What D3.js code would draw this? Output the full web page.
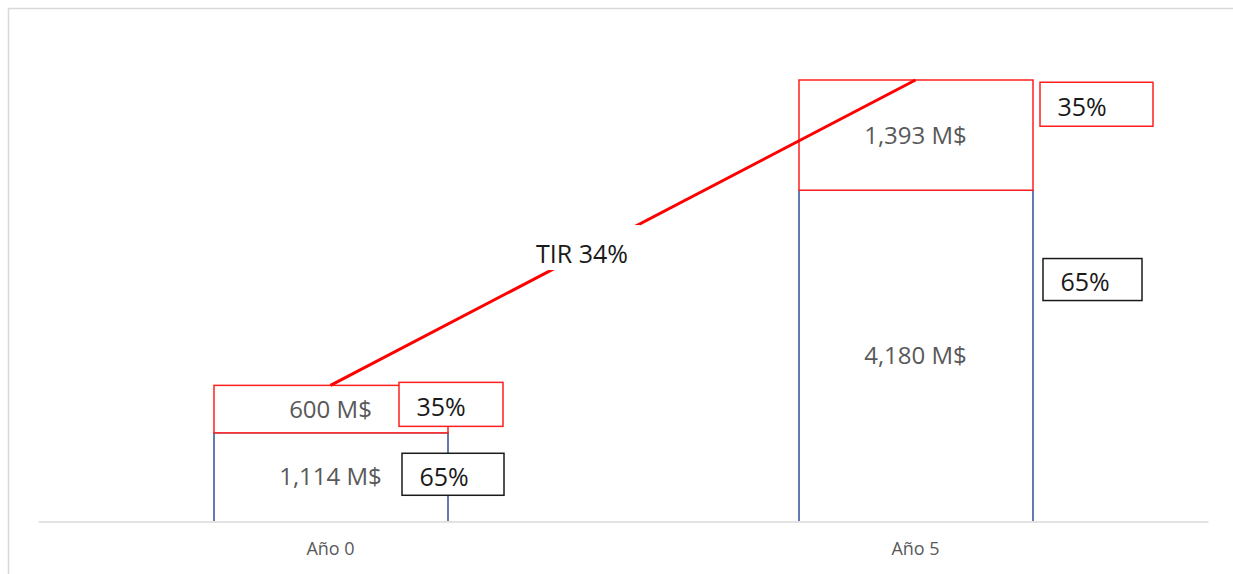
<!DOCTYPE html>
<html>
<head>
<meta charset="utf-8">
<script src="https://cdn.jsdelivr.net/npm/d3@7"></script>
<style>
  html, body { margin: 0; padding: 0; background: #ffffff; }
  svg { display: block; }
</style>
</head>
<body>
<svg id="chart" width="1233" height="574"></svg>
<script>
// Investment vs. value at exit, split between the two parts of the capital
const categories = ["Año 0", "Año 5"];
const baseValues = [1114, 4180];   // lower segment, M$
const topValues = [600, 1393];     // upper segment, M$
const baseShare = ["65%", "65%"];
const topShare = ["35%", "35%"];
const irrLabel = "TIR 34%";

const W = 1233, H = 574;
const svg = d3.select("#chart");
const FONT = "'Open Sans', 'Liberation Sans', sans-serif";

const plot = { left: 38, right: 1208, top: 80, bottom: 521 };

const x = d3.scaleBand()
  .domain(categories)
  .range([plot.left, plot.right])
  .paddingInner(0.6)
  .paddingOuter(0.3);

const totals = categories.map((c, i) => baseValues[i] + topValues[i]);
const y = d3.scaleLinear()
  .domain([0, d3.max(totals)])
  .range([plot.bottom, plot.top]);

// chart-area border
svg.append("path")
  .attr("d", `M8.5,${H} V8.5 H${W}`)
  .attr("fill", "none")
  .attr("stroke", "#d9d9d9")
  .attr("stroke-width", 1.5);

const rows = categories.map((c, i) => ({
  cat: c,
  base: baseValues[i],
  top: topValues[i],
  total: totals[i]
}));

// lower segments: white fill, navy sides
const lower = svg.append("g").selectAll("g")
  .data(rows)
  .join("g");
lower.append("rect")
  .attr("x", d => x(d.cat) + 0.5)
  .attr("y", d => y(d.base))
  .attr("width", x.bandwidth())
  .attr("height", d => y(0) - y(d.base))
  .attr("fill", "#ffffff");
lower.append("path")
  .attr("d", d => {
    const l = x(d.cat) + 0.5, r = l + x.bandwidth();
    return `M${l},${y(0)} V${y(d.base)} H${r} V${y(0)}`;
  })
  .attr("fill", "none")
  .attr("stroke", "#2f4f96")
  .attr("stroke-width", 1.5);

// upper segments (red outline)
svg.append("g").selectAll("rect")
  .data(rows)
  .join("rect")
  .attr("x", d => x(d.cat) + 0.5)
  .attr("y", d => y(d.total))
  .attr("width", x.bandwidth())
  .attr("height", d => y(d.base) - y(d.total))
  .attr("fill", "#ffffff")
  .attr("stroke", "#ff1f1f")
  .attr("stroke-width", 1.5);

// category axis
const xAxis = svg.append("g")
  .attr("transform", `translate(0,${plot.bottom + 0.5})`)
  .call(d3.axisBottom(x).tickSize(0).tickPadding(21));
xAxis.select(".domain").attr("stroke", "#d9d9d9").attr("stroke-width", 1.5);
xAxis.selectAll("text")
  .attr("font-family", FONT)
  .attr("font-size", 18)
  .attr("fill", "#595959");

// value labels centred in each segment
const fmt = d3.format(",");
const valueLabels = [];
rows.forEach(d => {
  valueLabels.push({ cx: x(d.cat) + x.bandwidth() / 2, cy: (y(0) + y(d.base)) / 2, text: fmt(d.base) + " M$" });
  valueLabels.push({ cx: x(d.cat) + x.bandwidth() / 2, cy: (y(d.base) + y(d.total)) / 2, text: fmt(d.top) + " M$" });
});
svg.append("g").selectAll("text")
  .data(valueLabels)
  .join("text")
  .attr("x", d => d.cx)
  .attr("y", d => d.cy)
  .attr("dy", "0.35em")
  .attr("text-anchor", "middle")
  .attr("font-family", FONT)
  .attr("font-size", 24)
  .attr("fill", "#595959")
  .text(d => d.text);

// IRR line from the invested amount to the exit value
const x0 = x(categories[0]) + x.bandwidth() / 2;
const x1 = x(categories[1]) + x.bandwidth() / 2;
const y0 = y(totals[0]);
const y1 = y(totals[1]);
svg.append("line")
  .attr("x1", x0).attr("y1", y0)
  .attr("x2", x1).attr("y2", y1)
  .attr("stroke", "#ff0000")
  .attr("stroke-width", 3);

const t = 0.43;
const lx = x0 + (x1 - x0) * t;
const ly = y0 + (y1 - y0) * t;
const irr = svg.append("g");
const irrBg = irr.append("rect").attr("fill", "#ffffff");
const irrText = irr.append("text")
  .attr("x", lx)
  .attr("y", ly)
  .attr("dy", "0.35em")
  .attr("text-anchor", "middle")
  .attr("font-family", FONT)
  .attr("font-size", 25)
  .attr("fill", "#1a1a1a")
  .text(irrLabel);
const bb = irrText.node().getBBox();
irrBg.attr("x", bb.x - 8).attr("y", ly - 29).attr("width", bb.width + 20).attr("height", 45);

// share boxes beside each segment
const shareLayout = [
  // dx from bar right edge, box width, vertical fraction within segment
  { top: { dx: -49, w: 104, f: 0.4 }, base: { dx: -46, w: 102, f: 0.47 } },
  { top: { dx: 7, w: 113, f: 0.22 }, base: { dx: 10, w: 99, f: 0.27 } }
];
const boxes = [];
rows.forEach((d, i) => {
  const right = x(d.cat) + x.bandwidth();
  const L = shareLayout[i];
  const tTop = y(d.total), tBot = y(d.base);
  boxes.push({ x: right + L.top.dx, w: L.top.w, h: 44, cy: tTop + (tBot - tTop) * L.top.f, text: topShare[i], stroke: "#ff1f1f" });
  const bTop = y(d.base), bBot = y(0);
  boxes.push({ x: right + L.base.dx, w: L.base.w, h: 42, cy: bTop + (bBot - bTop) * L.base.f, text: baseShare[i], stroke: "#1a1a1a" });
});
const bx = svg.append("g").selectAll("g")
  .data(boxes)
  .join("g");
bx.append("rect")
  .attr("x", d => d.x + 0.5)
  .attr("y", d => d.cy - d.h / 2)
  .attr("width", d => d.w)
  .attr("height", d => d.h)
  .attr("fill", "#ffffff")
  .attr("stroke", d => d.stroke)
  .attr("stroke-width", 1.5);
bx.append("text")
  .attr("x", d => d.x + 18)
  .attr("y", d => d.cy + 3)
  .attr("dy", "0.35em")
  .attr("font-family", FONT)
  .attr("font-size", 25)
  .attr("fill", "#1a1a1a")
  .text(d => d.text);
</script>
</body>
</html>
